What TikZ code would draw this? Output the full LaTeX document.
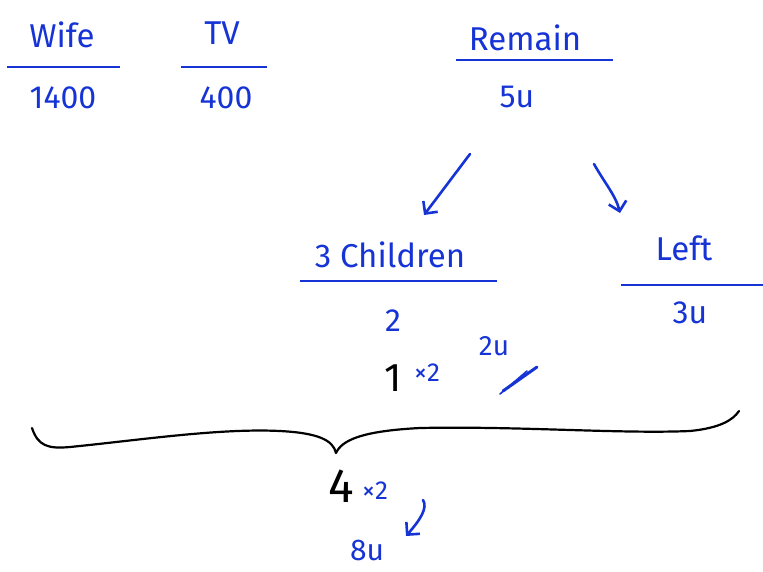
\documentclass[tikz,border=0pt]{standalone}
\usepackage{fontspec}
\setmainfont{Fira Sans}
\usetikzlibrary{arrows.meta,positioning}
\definecolor{penblue}{RGB}{22,52,214}

\begin{document}
\begin{tikzpicture}[
  x=1pt, y=-1pt,
  >={Straight Barb[length=9pt,width=18pt]},
  word/.style={text=penblue, font=\fontsize{33}{36}\selectfont, inner sep=0pt},
  amount/.style={text=penblue, font=\fontsize{32}{36}\selectfont, inner sep=0pt},
  times/.style={text=penblue, font=\fontsize{26}{28}\selectfont, inner sep=0pt},
  chalk/.style={text=black, font=\fontsize{40}{42}\selectfont, inner sep=0pt},
  rule/.style={draw=penblue, line width=2.2pt},
  pen/.style={draw=penblue, line width=2.6pt, line cap=round, line join=round},
  brace/.style={draw=black, line width=2.2pt, line cap=round, line join=round}
]
  \useasboundingbox (0,0) rectangle (763,571);
  %% Top row: the three parts
  \node[word]   (wife)      at (62,35)  {Wife};
  \node[amount] (wifeamt)   at (63,98)  {1400};
  \node[word]   (tv)        at (222,33) {TV};
  \node[amount] (tvamt)     at (226,98) {400};
  \node[word]   (remain)    at (525,38) {Remain};
  \node[amount] (remainamt) at (517,97) {5u};
  \draw[rule] (7,67) -- (120,67);
  \draw[rule] (181,67) -- (267,67);
  \draw[rule] (456,60) -- (613,60);
  %% Remain splits in two
  \node[word]   (kids)    at (390,255) {3 Children};
  \node[amount] (kidsamt) at (393,321) {2};
  \node[word]   (lft)     at (684,248) {Left};
  \node[amount] (lftamt)  at (690,313) {3u};
  \draw[rule] (300,281) -- (497,281);
  \draw[rule] (621,285) -- (763,285);
  \coordinate (splitl) at (470,154);
  \coordinate (kidstop) at (424,215);
  \coordinate (splitr) at (594,164);
  \coordinate (lfttop) at (620,213);
  \draw[pen,->] (splitl) -- (kidstop);
  \draw[pen,->] (splitr) .. controls (604,182) and (616,196) .. (lfttop);
  %% Working under the children
  \node[amount, font=\fontsize{28}{30}\selectfont] (twou) at (494,346) {2u};
  \node[chalk]  (one)   at (393,378) {1};
  \node[times]  (onex)  at (427,373) {×2};
  \draw[pen, line width=3pt] (537,367) -- (503,391);
  \draw[pen, line width=1.6pt] (527,371) -- (500,394);
  %% Brace over the whole
  \coordinate (tip) at (336,453);
  \draw[brace] (32,428) .. controls (38,446) and (48,449) .. (70,447)
    .. controls (140,440) and (220,428) .. (280,431)
    .. controls (318,433) and (333,440) .. (tip)
    .. controls (342,440) and (362,431) .. (420,428)
    .. controls (520,426) and (620,434) .. (690,431)
    .. controls (720,428) and (733,420) .. (739,411);
  \node[chalk, font=\fontsize{48}{50}\selectfont] (four) at (341,486) {4};
  \node[times]  (fourx) at (375,491) {×2};
  \node[amount, font=\fontsize{30}{32}\selectfont] (eightu) at (367,550) {8u};
  \coordinate (fourarr) at (423,500);
  \coordinate (eighttop) at (406,536);
  \draw[pen,->] (fourarr) .. controls (428,508) and (420,520) .. (eighttop);
\end{tikzpicture}
\end{document}
